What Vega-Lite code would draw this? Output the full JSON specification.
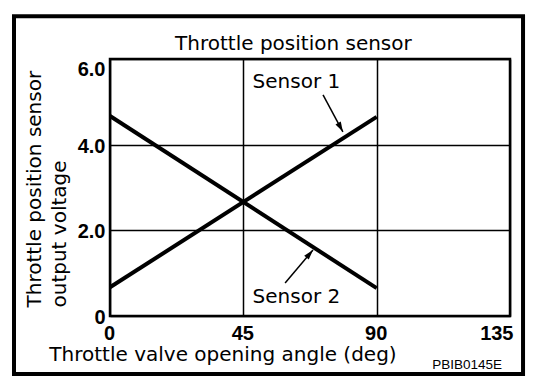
{
  "$schema": "https://vega.github.io/schema/vega-lite/v6.json",
  "width": 400,
  "height": 257,
  "autosize": {"type": "none"},
  "padding": {"left": 110, "top": 59, "right": 50, "bottom": 72},
  "background": "white",
  "config": {
    "font": "DejaVu Sans",
    "view": {"stroke": "black", "strokeWidth": 2.5}
  },
  "datasets": {
    "frame": [{"x0": -32.4, "x1": 139.4, "y0": -1.355, "y1": 7.0}],
    "lines": [
      {"series": "Sensor 1", "angle": 0, "voltage": 0.67},
      {"series": "Sensor 1", "angle": 90, "voltage": 4.65},
      {"series": "Sensor 2", "angle": 0, "voltage": 4.67},
      {"series": "Sensor 2", "angle": 90, "voltage": 0.65}
    ],
    "labels": [
      {"label": "Sensor 1", "angle": 62.9, "voltage": 5.32},
      {"label": "Sensor 2", "angle": 62.9, "voltage": 0.3}
    ],
    "heading": [{"label": "Throttle position sensor", "angle": 61.9, "voltage": 6.21}],
    "arrows": [
      {"name": "Sensor 1", "a0": 71.9, "v0": 5.16, "a1": 78.6, "v1": 4.3},
      {"name": "Sensor 2", "a0": 59.1, "v0": 0.77, "a1": 68.5, "v1": 1.54}
    ],
    "code": [{"label": "PBIB0145E", "angle": 120.5, "voltage": -1.24}]
  },
  "layer": [
    {
      "data": {"name": "lines"},
      "mark": {"type": "line", "color": "black", "strokeWidth": 4},
      "encoding": {
        "x": {
          "field": "angle", "type": "quantitative",
          "scale": {"domain": [0, 135], "nice": false, "zero": false},
          "axis": {
            "values": [0, 45, 90, 135],
            "format": "d",
            "title": "Throttle valve opening angle (deg)",
            "titleFont": "DejaVu Sans",
            "titleFontSize": 20,
            "titleFontWeight": "normal",
            "titleColor": "black",
            "titleX": 112.5,
            "titleY": 44,
            "titleAlign": "center",
            "titleBaseline": "alphabetic",
            "domain": false,
            "ticks": false,
            "tickSize": 0,
            "labelFont": "Liberation Sans",
            "labelFontSize": 20,
            "labelFontWeight": "bold",
            "labelColor": "black",
            "labelPadding": 7,
            "labelFlush": false,
            "labelAlign": {"condition": {"test": "datum.value == 135", "value": "right"}, "value": "center"},
            "labelOffset": {"condition": {"test": "datum.value == 135", "value": 3}, "value": -1},
            "grid": true,
            "gridColor": "black",
            "gridWidth": 1.5,
            "gridOpacity": 1
          }
        },
        "y": {
          "field": "voltage", "type": "quantitative",
          "scale": {"domain": [0, 6], "nice": false, "zero": false},
          "axis": {
            "values": [0, 2, 4, 6],
            "labelExpr": "datum.value == 0 ? '0' : format(datum.value, '.1f')",
            "title": ["Throttle position sensor", "output voltage"],
            "titleFont": "DejaVu Sans",
            "titleFontSize": 20,
            "titleFontWeight": "normal",
            "titleColor": "black",
            "titleAngle": 270,
            "titleAlign": "left",
            "titleBaseline": "alphabetic",
            "titleLineHeight": 25,
            "titleX": -70,
            "titleY": 248,
            "domain": false,
            "ticks": false,
            "tickSize": 0,
            "labelFont": "Liberation Sans",
            "labelFontSize": 20,
            "labelFontWeight": "bold",
            "labelColor": "black",
            "labelPadding": 5,
            "labelFlush": false,
            "labelBaseline": "middle",
            "labelOffset": {"condition": {"test": "datum.value == 6", "value": 10}, "value": 1.5},
            "grid": true,
            "gridColor": "black",
            "gridWidth": 1.5,
            "gridOpacity": 1
          }
        },
        "detail": {"field": "series"}
      }
    },
    {
      "data": {"name": "frame"},
      "mark": {"type": "rect", "fill": "white", "fillOpacity": 0, "stroke": "black", "strokeWidth": 4},
      "encoding": {
        "x": {"field": "x0", "type": "quantitative", "scale": {"domain": [0, 135], "nice": false, "zero": false}},
        "x2": {"field": "x1"},
        "y": {"field": "y0", "type": "quantitative", "scale": {"domain": [0, 6], "nice": false, "zero": false}},
        "y2": {"field": "y1"}
      }
    },
    {
      "data": {"name": "labels"},
      "mark": {"type": "text", "font": "DejaVu Sans", "fontSize": 20, "align": "center", "baseline": "alphabetic", "color": "black"},
      "encoding": {
        "x": {"field": "angle", "type": "quantitative", "scale": {"domain": [0, 135], "nice": false, "zero": false}},
        "y": {"field": "voltage", "type": "quantitative", "scale": {"domain": [0, 6], "nice": false, "zero": false}},
        "text": {"field": "label"}
      }
    },
    {
      "data": {"name": "heading"},
      "mark": {"type": "text", "font": "DejaVu Sans", "fontSize": 20, "align": "center", "baseline": "alphabetic", "color": "black"},
      "encoding": {
        "x": {"field": "angle", "type": "quantitative", "scale": {"domain": [0, 135], "nice": false, "zero": false}},
        "y": {"field": "voltage", "type": "quantitative", "scale": {"domain": [0, 6], "nice": false, "zero": false}},
        "text": {"field": "label"}
      }
    },
    {
      "data": {"name": "code"},
      "mark": {"type": "text", "font": "Liberation Sans", "fontSize": 13.5, "align": "center", "baseline": "alphabetic", "color": "black"},
      "encoding": {
        "x": {"field": "angle", "type": "quantitative", "scale": {"domain": [0, 135], "nice": false, "zero": false}},
        "y": {"field": "voltage", "type": "quantitative", "scale": {"domain": [0, 6], "nice": false, "zero": false}},
        "text": {"field": "label"}
      }
    },
    {
      "data": {"name": "arrows"},
      "mark": {"type": "rule", "color": "black", "strokeWidth": 1.5},
      "encoding": {
        "x": {"field": "a0", "type": "quantitative", "scale": {"domain": [0, 135], "nice": false, "zero": false}},
        "y": {"field": "v0", "type": "quantitative", "scale": {"domain": [0, 6], "nice": false, "zero": false}},
        "x2": {"field": "a1"},
        "y2": {"field": "v1"}
      }
    },
    {
      "data": {"name": "arrows"},
      "transform": [{"filter": "datum.name == 'Sensor 1'"}],
      "mark": {"type": "point", "shape": "M0,0L-0.3,1L0.3,1Z", "filled": true, "color": "black", "opacity": 1, "size": 400, "angle": 151.6},
      "encoding": {
        "x": {"field": "a1", "type": "quantitative", "scale": {"domain": [0, 135], "nice": false, "zero": false}},
        "y": {"field": "v1", "type": "quantitative", "scale": {"domain": [0, 6], "nice": false, "zero": false}}
      }
    },
    {
      "data": {"name": "arrows"},
      "transform": [{"filter": "datum.name == 'Sensor 2'"}],
      "mark": {"type": "point", "shape": "M0,0L-0.3,1L0.3,1Z", "filled": true, "color": "black", "opacity": 1, "size": 400, "angle": 40.3},
      "encoding": {
        "x": {"field": "a1", "type": "quantitative", "scale": {"domain": [0, 135], "nice": false, "zero": false}},
        "y": {"field": "v1", "type": "quantitative", "scale": {"domain": [0, 6], "nice": false, "zero": false}}
      }
    }
  ]
}
